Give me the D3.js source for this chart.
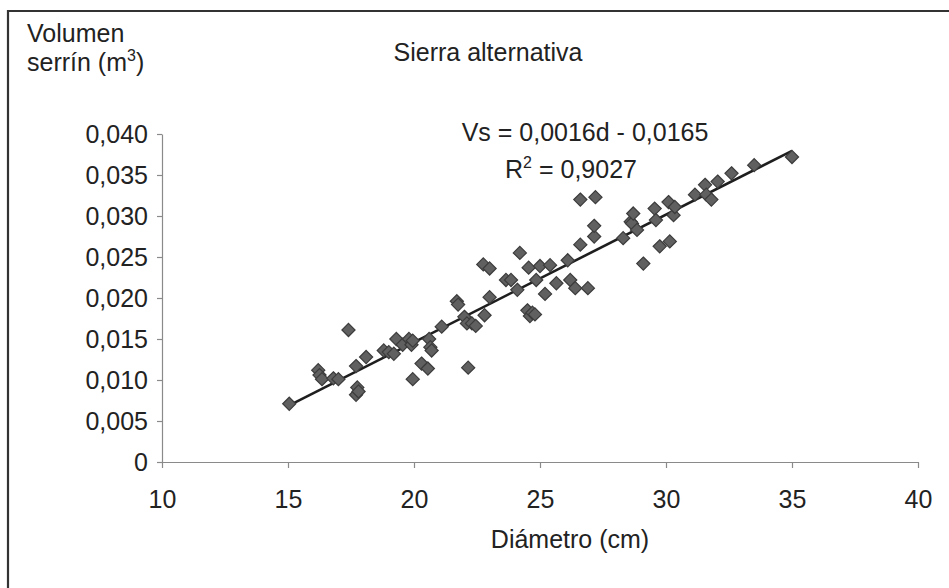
<!DOCTYPE html>
<html lang="es">
<head>
    <meta charset="UTF-8">
    <title>Sierra alternativa</title>
    <style>
        body {
            margin: 0;
            padding: 0;
            overflow: hidden;
            background: #fff;
            font-family: "Liberation Sans", Arial, sans-serif;
        }

        .axis path,
        .axis line {
            stroke: #8a8a8a;
            stroke-width: 1.2px;
        }

        .axis text {
            font-family: "Liberation Sans", Arial, sans-serif;
            font-size: 25px;
            fill: #222;
        }

        .label {
            font-size: 25px;
            fill: #222;
        }

        .dot {
            fill: #606060;
            stroke: #3c3c3c;
            stroke-width: 1.2px;
        }

        .trend {
            stroke: #1e1e1e;
            stroke-width: 2.6px;
            fill: none;
        }
    </style>
    <script src="https://d3js.org/d3.v7.min.js"></script>
</head>
<body>
    <div id="chart"></div>

    <script>
        // diameter (cm) and sawdust volume (m3)
        const diametro = [
            15.05, 16.2, 16.25, 16.35, 16.8, 17.0, 17.4, 17.7, 17.75, 17.7,
            17.8, 18.1, 18.8, 19.0, 19.2, 19.3, 19.55, 19.8, 19.9, 19.95,
            19.95, 20.3, 20.55, 20.6, 20.65, 20.7, 21.1, 21.7, 21.75, 22.0,
            22.1, 22.15, 22.3, 22.45, 22.8, 23.0, 22.75, 23.0, 23.65, 23.85,
            24.1, 24.2, 24.5, 24.55, 24.6, 24.7, 24.85, 24.8, 25.0, 25.2,
            25.4, 25.65, 26.1, 26.2, 26.4, 26.6, 26.6, 26.9, 27.15, 27.15,
            27.2, 28.3, 28.6, 28.65, 28.7, 28.85, 29.1, 29.55, 29.6, 29.75,
            30.1, 30.15, 30.3, 30.35, 31.15, 31.55, 31.6, 31.8, 32.05, 32.6,
            33.5, 35.0
        ];
        const volumen = [
            0.0071, 0.0112, 0.0106, 0.0101, 0.0102, 0.0101, 0.0161, 0.0117, 0.0091, 0.0082,
            0.0086, 0.0128, 0.0136, 0.0134, 0.0132, 0.0150, 0.0143, 0.0150, 0.0143, 0.0148,
            0.0101, 0.0120, 0.0114, 0.0150, 0.0140, 0.0136, 0.0165, 0.0196, 0.0192, 0.0177,
            0.0169, 0.0115, 0.0169, 0.0166, 0.0179, 0.0201, 0.0241, 0.0236, 0.0222, 0.0222,
            0.0210, 0.0255, 0.0185, 0.0237, 0.0178, 0.0182, 0.0222, 0.0180, 0.0239, 0.0205,
            0.0240, 0.0218, 0.0246, 0.0222, 0.0212, 0.0265, 0.0320, 0.0212, 0.0275, 0.0288,
            0.0323, 0.0273, 0.0293, 0.0291, 0.0303, 0.0283, 0.0242, 0.0309, 0.0295, 0.0263,
            0.0317, 0.0269, 0.0301, 0.0311, 0.0326, 0.0338, 0.0326, 0.0320, 0.0342, 0.0352,
            0.0362, 0.0372
        ];

        const xTicks = [10, 15, 20, 25, 30, 35, 40];
        const yTicks = [0, 0.005, 0.010, 0.015, 0.020, 0.025, 0.030, 0.035, 0.040];

        const titulo = 'Sierra alternativa';
        const ecuacion = 'Vs = 0,0016d - 0,0165';
        const r2 = '0,9027';

        const width = 949, height = 588;
        const margin = { top: 134, right: 31, bottom: 126, left: 162 };

        const svg = d3.select('#chart')
            .append('svg')
            .attr('width', width)
            .attr('height', height);

        // outer frame (only top and left edges are inside the picture)
        svg.append('path')
            .attr('d', `M8,${height}V11H${width}`)
            .attr('fill', 'none')
            .attr('stroke', '#333')
            .attr('stroke-width', 2.2);

        const x = d3.scaleLinear().domain([10, 40]).range([margin.left, width - margin.right]);
        const y = d3.scaleLinear().domain([0, 0.040]).range([height - margin.bottom, margin.top]);

        const fmtY = v => v === 0 ? '0' : d3.format('.3f')(v).replace('.', ',');

        // x axis
        const gx = svg.append('g')
            .attr('class', 'axis')
            .attr('transform', `translate(0,${y(0)})`)
            .call(d3.axisBottom(x).tickValues(xTicks).tickSize(6).tickSizeOuter(0).tickPadding(22));
        gx.selectAll('text').attr('dy', '0.71em');

        // y axis
        svg.append('g')
            .attr('class', 'axis')
            .attr('transform', `translate(${x(10)},0)`)
            .call(d3.axisLeft(y).tickValues(yTicks).tickFormat(fmtY).tickSize(5).tickSizeOuter(0).tickPadding(9));

        // least squares trend line from the points
        const n = diametro.length;
        const mx = d3.mean(diametro), my = d3.mean(volumen);
        let sxy = 0, sxx = 0;
        for (let i = 0; i < n; i++) {
            sxy += (diametro[i] - mx) * (volumen[i] - my);
            sxx += (diametro[i] - mx) ** 2;
        }
        const slope = sxy / sxx;
        const intercept = my - slope * mx;
        const ext = d3.extent(diametro);

        svg.append('line')
            .attr('class', 'trend')
            .attr('x1', x(ext[0]))
            .attr('y1', y(slope * ext[0] + intercept))
            .attr('x2', x(ext[1]))
            .attr('y2', y(slope * ext[1] + intercept));

        // points as diamonds
        const diamond = d3.symbol().type(d3.symbolDiamond2).size(110);
        svg.selectAll('.dot')
            .data(diametro.map((d, i) => [d, volumen[i]]))
            .enter().append('path')
            .attr('class', 'dot')
            .attr('d', diamond)
            .attr('transform', d => `translate(${x(d[0])},${y(d[1])})`);

        // texts
        svg.append('text')
            .attr('class', 'label')
            .attr('x', 488).attr('y', 61)
            .attr('text-anchor', 'middle')
            .text(titulo);

        svg.append('text')
            .attr('class', 'label')
            .attr('x', 27).attr('y', 42)
            .text('Volumen');

        const yl = svg.append('text')
            .attr('class', 'label')
            .attr('x', 27).attr('y', 71);
        yl.append('tspan').text('serrín (m');
        yl.append('tspan').attr('dy', -10).style('font-size', '16px').text('3');
        yl.append('tspan').attr('dy', 10).text(')');

        svg.append('text')
            .attr('class', 'label')
            .attr('x', 585).attr('y', 141)
            .attr('text-anchor', 'middle')
            .text(ecuacion);

        const rt = svg.append('text')
            .attr('class', 'label')
            .attr('x', 571).attr('y', 178)
            .attr('text-anchor', 'middle');
        rt.append('tspan').text('R');
        rt.append('tspan').attr('dy', -10).style('font-size', '16px').text('2');
        rt.append('tspan').attr('dy', 10).text(' = ' + r2);

        svg.append('text')
            .attr('class', 'label')
            .attr('x', x(25) + 30).attr('y', 548)
            .attr('text-anchor', 'middle')
            .text('Diámetro (cm)');
    </script>
</body>
</html>
